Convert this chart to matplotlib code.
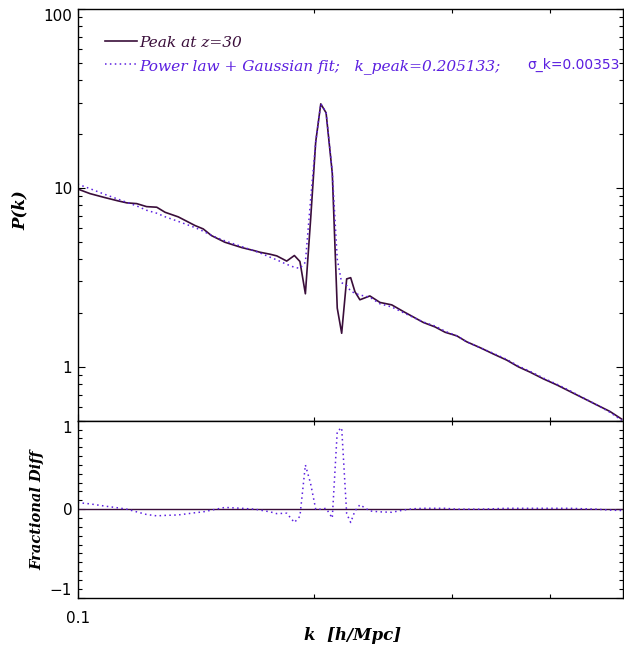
import matplotlib
matplotlib.use("Agg")
import matplotlib.pyplot as plt
from matplotlib.ticker import NullFormatter

# k grid [h/Mpc]
k = [0.1000, 0.1037, 0.1083, 0.1126, 0.1155, 0.1189, 0.1224, 0.1261, 0.1292, 0.1343,
     0.1411, 0.1445, 0.1481, 0.1540, 0.1618, 0.1682, 0.1707, 0.1758, 0.1793, 0.1846,
     0.1888, 0.1919, 0.1950, 0.1980, 0.2010, 0.2040, 0.2072, 0.2110, 0.2141, 0.2169,
     0.2201, 0.2227, 0.2255, 0.2288, 0.2356, 0.2427, 0.2512, 0.2598, 0.2676, 0.2756,
     0.2853, 0.2938, 0.3040, 0.3130, 0.3255, 0.3384, 0.3520, 0.3642, 0.3769, 0.3918,
     0.4075, 0.4237, 0.4406, 0.4582, 0.4764, 0.4932]

# measured P(k), peak at z=30
p_data = [9.86, 9.29, 8.83, 8.46, 8.25, 8.17, 7.86, 7.80, 7.31, 6.89,
          6.16, 5.90, 5.41, 4.97, 4.64, 4.45, 4.37, 4.26, 4.17, 3.90,
          4.19, 3.88, 2.56, 6.63, 18.1, 29.5, 26.3, 12.1, 2.13, 1.54,
          3.10, 3.15, 2.63, 2.37, 2.49, 2.29, 2.22, 2.04, 1.90, 1.77,
          1.67, 1.56, 1.49, 1.38, 1.28, 1.18, 1.09, 1.00, 0.934, 0.857,
          0.793, 0.728, 0.668, 0.613, 0.563, 0.510]

# power law + gaussian fit
p_fit = [10.5, 9.9, 9.2, 8.65, 8.3, 7.93, 7.5, 7.22, 6.9, 6.5,
         6.0, 5.73, 5.42, 5.06, 4.70, 4.43, 4.33, 4.10, 3.96, 3.74,
         3.60, 3.55, 3.84, 8.57, 18.1, 29.5, 26.5, 12.3, 4.0, 2.95,
         2.85, 2.65, 2.58, 2.52, 2.45, 2.25, 2.16, 2.01, 1.89, 1.78,
         1.69, 1.58, 1.49, 1.38, 1.28, 1.19, 1.10, 1.01, 0.943, 0.866,
         0.80, 0.735, 0.671, 0.613, 0.557, 0.502]

# fractional difference, bottom panel
frac_diff = [0.075, 0.06, 0.035, 0.015, 0.0, -0.03, -0.06, -0.075, -0.07, -0.065,
             -0.04, -0.03, -0.01, 0.02, 0.01, 0.0, -0.01, -0.03, -0.05, -0.045,
             -0.15, -0.08, 0.5, 0.29, 0.0, 0.0, 0.01, -0.1, 0.88, 0.92,
             -0.05, -0.15, -0.02, 0.05, -0.02, -0.03, -0.035, -0.01, 0.005, 0.01,
             0.01, 0.01, 0.0, 0.0, 0.0, 0.005, 0.01, 0.01, 0.01, 0.01,
             0.01, 0.01, 0.005, 0.0, -0.01, -0.015]

peak_label = "Peak at z=30"
fit_label = "Power law + Gaussian fit;   k_peak=0.205133;"
sigma_label = "σ_k=0.00353"

data_color = "#3a0e3a"
fit_color = "#5b1fe0"
dots = (0, (1, 2.2))
serif_it = dict(family="DejaVu Serif", style="italic")

fig = plt.figure(figsize=(6.24, 6.48), dpi=100)
ax1 = fig.add_axes([0.1245, 0.3508, 0.8739, 0.6353])
ax2 = fig.add_axes([0.1245, 0.0776, 0.8739, 0.2732], sharex=ax1)

ax1.plot(k, p_data, color=data_color, lw=1.2, label=peak_label)
ax1.plot(k, p_fit, color=fit_color, lw=1.1, ls=dots, label=fit_label)
ax1.set_xscale("log")
ax1.set_yscale("log")
ax1.set_xlim(0.1, 0.495)
ax1.set_ylim(0.5, 100)

ax2.axhline(0, color=data_color, lw=1.0)
ax2.plot(k, frac_diff, color=fit_color, lw=1.1, ls=dots)
ax2.set_ylim(-1, 1)

# ticks
ax1.set_yticks([1, 10, 100], labels=["1", "10", "100"])
ax1.set_yticks([0.5, 0.6, 0.7, 0.8, 0.9, 2, 3, 4, 5, 6, 7, 8, 9,
                20, 30, 40, 50, 60, 70, 80, 90], minor=True)
ax1.yaxis.set_minor_formatter(NullFormatter())
ax2.set_xticks([0.1], labels=["0.1"])
ax2.set_xticks([0.2, 0.3, 0.4], minor=True)
ax2.xaxis.set_minor_formatter(NullFormatter())
ax2.set_yticks([-1, 0, 1], labels=["−1", "0", "1"])
ax2.set_yticks([v / 10 for v in range(-10, 11)], minor=True)
ax1.tick_params(labelbottom=False)

for ax in (ax1, ax2):
    ax.tick_params(which="both", direction="in", top=True, right=True, width=0.8,
                   labelsize=11, colors="black")
    ax.tick_params(which="major", length=5)
    ax.tick_params(which="minor", length=3.2)
    ax.tick_params(axis="y", pad=4)
    ax.tick_params(axis="x", pad=9.5)
    for s in ax.spines.values():
        s.set_linewidth(1.0)

ax1.get_yticklabels()[2].set_va("top")
ax2.get_yticklabels()[0].set_va("bottom")
ax2.get_yticklabels()[2].set_va("top")

leg = ax1.legend(loc="upper left", bbox_to_anchor=(0.05, 0.935), frameon=False,
                 handlelength=2.05, handletextpad=0.2, borderpad=0, borderaxespad=0,
                 labelspacing=0.59, prop=dict(size=11.1, **serif_it))
for t, c in zip(leg.get_texts(), [data_color, fit_color]):
    t.set_color(c)
ax1.text(0.9945, 0.864, sigma_label, transform=ax1.transAxes, color=fit_color,
         fontsize=10, family="DejaVu Sans", ha="right", va="center")

fig.text(20 / 624, 1 - 210 / 648, "P(k)", rotation=90, ha="center", va="center",
         fontsize=12, weight="bold", **serif_it)
fig.text(37 / 624, 1 - 510 / 648, "Fractional Diff", rotation=90, ha="center",
         va="center", fontsize=10.5, weight="bold", **serif_it)
fig.text(352.5 / 624, 1 - 636 / 648, "k  [h/Mpc]", ha="center", va="center",
         fontsize=12, weight="bold", **serif_it)

fig.savefig("out.png", dpi=100)
